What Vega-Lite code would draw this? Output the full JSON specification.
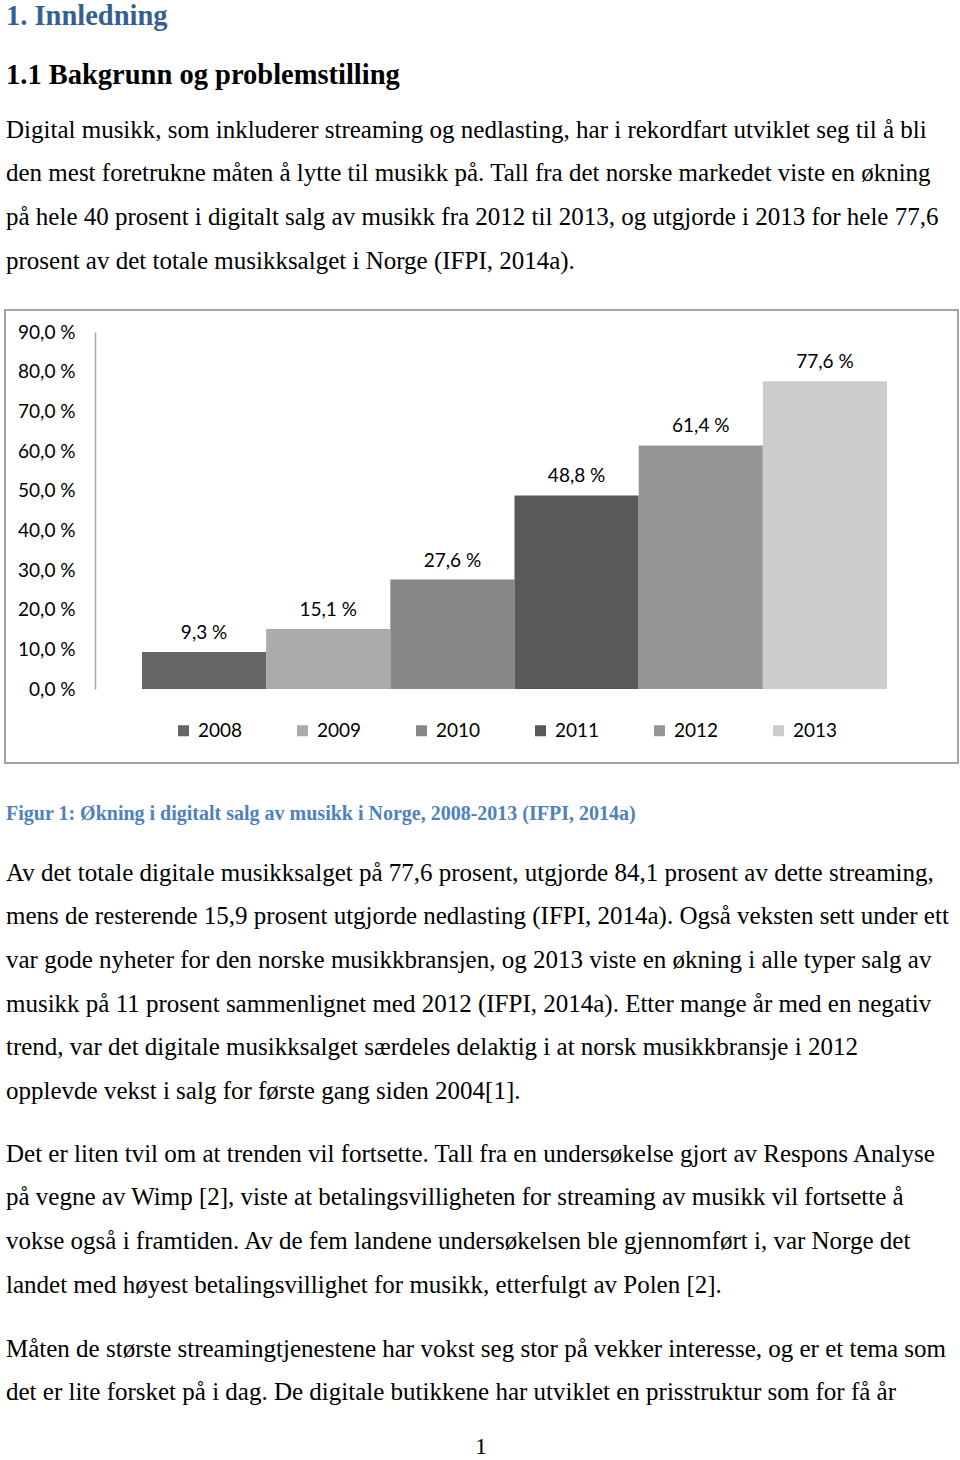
{
  "$schema": "https://vega.github.io/schema/vega-lite/v6.json",
  "padding": {"left": 4, "top": 0, "right": 0, "bottom": 0},
  "background": "white",
  "bounds": "flush",
  "spacing": 0,
  "datasets": {
    "text": [
      {"block": "h1", "line": 1, "text": "1. Innledning"},
      {"block": "h2", "line": 1, "text": "1.1 Bakgrunn og problemstilling"},
      {"block": "p1", "line": 1, "text": "Digital musikk, som inkluderer streaming og nedlasting, har i rekordfart utviklet seg til å bli"},
      {"block": "p1", "line": 2, "text": "den mest foretrukne måten å lytte til musikk på. Tall fra det norske markedet viste en økning"},
      {"block": "p1", "line": 3, "text": "på hele 40 prosent i digitalt salg av musikk fra 2012 til 2013, og utgjorde i 2013 for hele 77,6"},
      {"block": "p1", "line": 4, "text": "prosent av det totale musikksalget i Norge (IFPI, 2014a)."},
      {"block": "cap", "line": 1, "text": "Figur 1: Økning i digitalt salg av musikk i Norge, 2008-2013 (IFPI, 2014a)"},
      {"block": "p2", "line": 1, "text": "Av det totale digitale musikksalget på 77,6 prosent, utgjorde 84,1 prosent av dette streaming,"},
      {"block": "p2", "line": 2, "text": "mens de resterende 15,9 prosent utgjorde nedlasting (IFPI, 2014a). Også veksten sett under ett"},
      {"block": "p2", "line": 3, "text": "var gode nyheter for den norske musikkbransjen, og 2013 viste en økning i alle typer salg av"},
      {"block": "p2", "line": 4, "text": "musikk på 11 prosent sammenlignet med 2012 (IFPI, 2014a). Etter mange år med en negativ"},
      {"block": "p2", "line": 5, "text": "trend, var det digitale musikksalget særdeles delaktig i at norsk musikkbransje i 2012"},
      {"block": "p2", "line": 6, "text": "opplevde vekst i salg for første gang siden 2004[1]."},
      {"block": "p3", "line": 1, "text": "Det er liten tvil om at trenden vil fortsette. Tall fra en undersøkelse gjort av Respons Analyse"},
      {"block": "p3", "line": 2, "text": "på vegne av Wimp [2], viste at betalingsvilligheten for streaming av musikk vil fortsette å"},
      {"block": "p3", "line": 3, "text": "vokse også i framtiden. Av de fem landene undersøkelsen ble gjennomført i, var Norge det"},
      {"block": "p3", "line": 4, "text": "landet med høyest betalingsvillighet for musikk, etterfulgt av Polen [2]."},
      {"block": "p4", "line": 1, "text": "Måten de største streamingtjenestene har vokst seg stor på vekker interesse, og er et tema som"},
      {"block": "p4", "line": 2, "text": "det er lite forsket på i dag. De digitale butikkene har utviklet en prisstruktur som for få år"},
      {"block": "page", "line": 1, "text": "1"}
    ],
    "bars": [
      {"year": "2008", "value": 9.3},
      {"year": "2009", "value": 15.1},
      {"year": "2010", "value": 27.6},
      {"year": "2011", "value": 48.8},
      {"year": "2012", "value": 61.4},
      {"year": "2013", "value": 77.6}
    ]
  },
  "resolve": {"scale": {"x": "independent", "y": "independent", "color": "independent"}},
  "vconcat": [
    {
      "width": 953, "height": 30,
      "view": {"stroke": null},
      "data": {"name": "text"},
      "transform": [{"filter": "datum.block == 'h1'"}],
      "mark": {"type": "text", "align": "left", "baseline": "middle", "dx": 1, "dy": 1, "font": "Liberation Serif", "fontWeight": "bold", "fontSize": 28.5, "color": "#365f91"},
      "encoding": {
        "x": {"datum": 0, "type": "quantitative", "scale": {"domain": [0, 1]}, "axis": null},
        "text": {"field": "text"}
      }
    },
    {
      "width": 953, "height": 77.2,
      "view": {"stroke": null},
      "data": {"name": "text"},
      "transform": [{"filter": "datum.block == 'h2'"}],
      "mark": {"type": "text", "align": "left", "baseline": "middle", "dx": 1, "dy": 6.4, "font": "Liberation Serif", "fontWeight": "bold", "fontSize": 28.5, "color": "#000000"},
      "encoding": {
        "x": {"datum": 0, "type": "quantitative", "scale": {"domain": [0, 1]}, "axis": null},
        "text": {"field": "text"}
      }
    },
    {
      "width": 953, "height": 201.8,
      "view": {"stroke": null},
      "data": {"name": "text"},
      "transform": [{"filter": "datum.block == 'p1'"}],
      "mark": {"type": "text", "align": "left", "baseline": "middle", "dx": 1, "font": "Liberation Serif", "fontSize": 25, "color": "#000000"},
      "encoding": {
        "x": {"datum": 0, "type": "quantitative", "scale": {"domain": [0, 1]}, "axis": null},
        "y": {"field": "line", "type": "ordinal", "scale": {"type": "band", "paddingInner": 0, "paddingOuter": 0.3142, "align": 0}, "axis": null},
        "text": {"field": "text"}
      }
    },
    {
      "width": 953, "height": 453,
      "view": {"stroke": "#a3a3a3", "strokeWidth": 2},
      "data": {"name": "bars"},
      "transform": [{"calculate": "replace(format(datum.value, '.1f'), '.', ',') + ' %'", "as": "label"}],
      "encoding": {
        "x": {"field": "year", "type": "nominal", "sort": null, "scale": {"paddingInner": 0, "paddingOuter": 0.8375, "align": 0.6587}, "axis": null},
        "y": {
          "field": "value", "type": "quantitative",
          "scale": {"domain": [0, 90], "range": [379, 22], "nice": false},
          "axis": {
            "orient": "left", "offset": -90, "values": [0, 10, 20, 30, 40, 50, 60, 70, 80, 90],
            "labelExpr": "replace(format(datum.value, '.1f'), '.', ',') + ' %'",
            "ticks": false, "grid": false, "domain": true, "domainColor": "#a6a6a6", "domainWidth": 1.5,
            "labelPadding": 20, "labelFont": "Lato", "labelFontSize": 19, "labelColor": "#000000",
            "labelAlign": "right", "labelBaseline": "middle", "title": null, "labelOverlap": false
          }
        }
      },
      "layer": [
        {
          "mark": {"type": "bar"},
          "encoding": {
            "color": {
              "field": "year", "type": "nominal", "sort": null,
              "scale": {"range": ["#666666", "#ababab", "#878787", "#595959", "#969696", "#cccccc"]},
              "legend": {
                "orient": "none", "legendX": 169, "legendY": 411, "direction": "horizontal", "columns": 6,
                "symbolType": "square", "symbolSize": 121, "symbolStrokeWidth": 0, "symbolOpacity": 1,
                "labelFont": "Lato", "labelFontSize": 19, "labelColor": "#000000", "labelOffset": 5,
                "columnPadding": 50, "title": null, "padding": 0
              }
            }
          }
        },
        {
          "mark": {"type": "text", "baseline": "alphabetic", "dy": -13, "font": "Lato", "fontSize": 19, "color": "#000000"},
          "encoding": {"text": {"field": "label"}}
        }
      ]
    },
    {
      "width": 953, "height": 87.4,
      "view": {"stroke": null},
      "data": {"name": "text"},
      "transform": [{"filter": "datum.block == 'cap'"}],
      "mark": {"type": "text", "align": "left", "baseline": "middle", "dx": 1, "dy": 7.3, "font": "Liberation Serif", "fontWeight": "bold", "fontSize": 20, "color": "#4f81bd"},
      "encoding": {
        "x": {"datum": 0, "type": "quantitative", "scale": {"domain": [0, 1]}, "axis": null},
        "text": {"field": "text"}
      }
    },
    {
      "width": 953, "height": 281,
      "view": {"stroke": null},
      "data": {"name": "text"},
      "transform": [{"filter": "datum.block == 'p2'"}],
      "mark": {"type": "text", "align": "left", "baseline": "middle", "dx": 1, "font": "Liberation Serif", "fontSize": 25, "color": "#000000"},
      "encoding": {
        "x": {"datum": 0, "type": "quantitative", "scale": {"domain": [0, 1]}, "axis": null},
        "y": {"field": "line", "type": "ordinal", "scale": {"type": "band", "paddingInner": 0, "paddingOuter": 0.2225, "align": 0}, "axis": null},
        "text": {"field": "text"}
      }
    },
    {
      "width": 953, "height": 195,
      "view": {"stroke": null},
      "data": {"name": "text"},
      "transform": [{"filter": "datum.block == 'p3'"}],
      "mark": {"type": "text", "align": "left", "baseline": "middle", "dx": 1, "font": "Liberation Serif", "fontSize": 25, "color": "#000000"},
      "encoding": {
        "x": {"datum": 0, "type": "quantitative", "scale": {"domain": [0, 1]}, "axis": null},
        "y": {"field": "line", "type": "ordinal", "scale": {"type": "band", "paddingInner": 0, "paddingOuter": 0.2362, "align": 0}, "axis": null},
        "text": {"field": "text"}
      }
    },
    {
      "width": 953, "height": 102.6,
      "view": {"stroke": null},
      "data": {"name": "text"},
      "transform": [{"filter": "datum.block == 'p4'"}],
      "mark": {"type": "text", "align": "left", "baseline": "middle", "dx": 1, "font": "Liberation Serif", "fontSize": 25, "color": "#000000"},
      "encoding": {
        "x": {"datum": 0, "type": "quantitative", "scale": {"domain": [0, 1]}, "axis": null},
        "y": {"field": "line", "type": "ordinal", "scale": {"type": "band", "paddingInner": 0, "paddingOuter": 0.1766, "align": 0}, "axis": null},
        "text": {"field": "text"}
      }
    },
    {
      "width": 952, "height": 32,
      "view": {"stroke": null},
      "data": {"name": "text"},
      "transform": [{"filter": "datum.block == 'page'"}],
      "mark": {"type": "text", "align": "center", "baseline": "middle", "dy": 1, "font": "Liberation Serif", "fontSize": 24, "color": "#000000"},
      "encoding": {
        "x": {"datum": 0.5, "type": "quantitative", "scale": {"domain": [0, 1]}, "axis": null},
        "text": {"field": "text"}
      }
    }
  ]
}
